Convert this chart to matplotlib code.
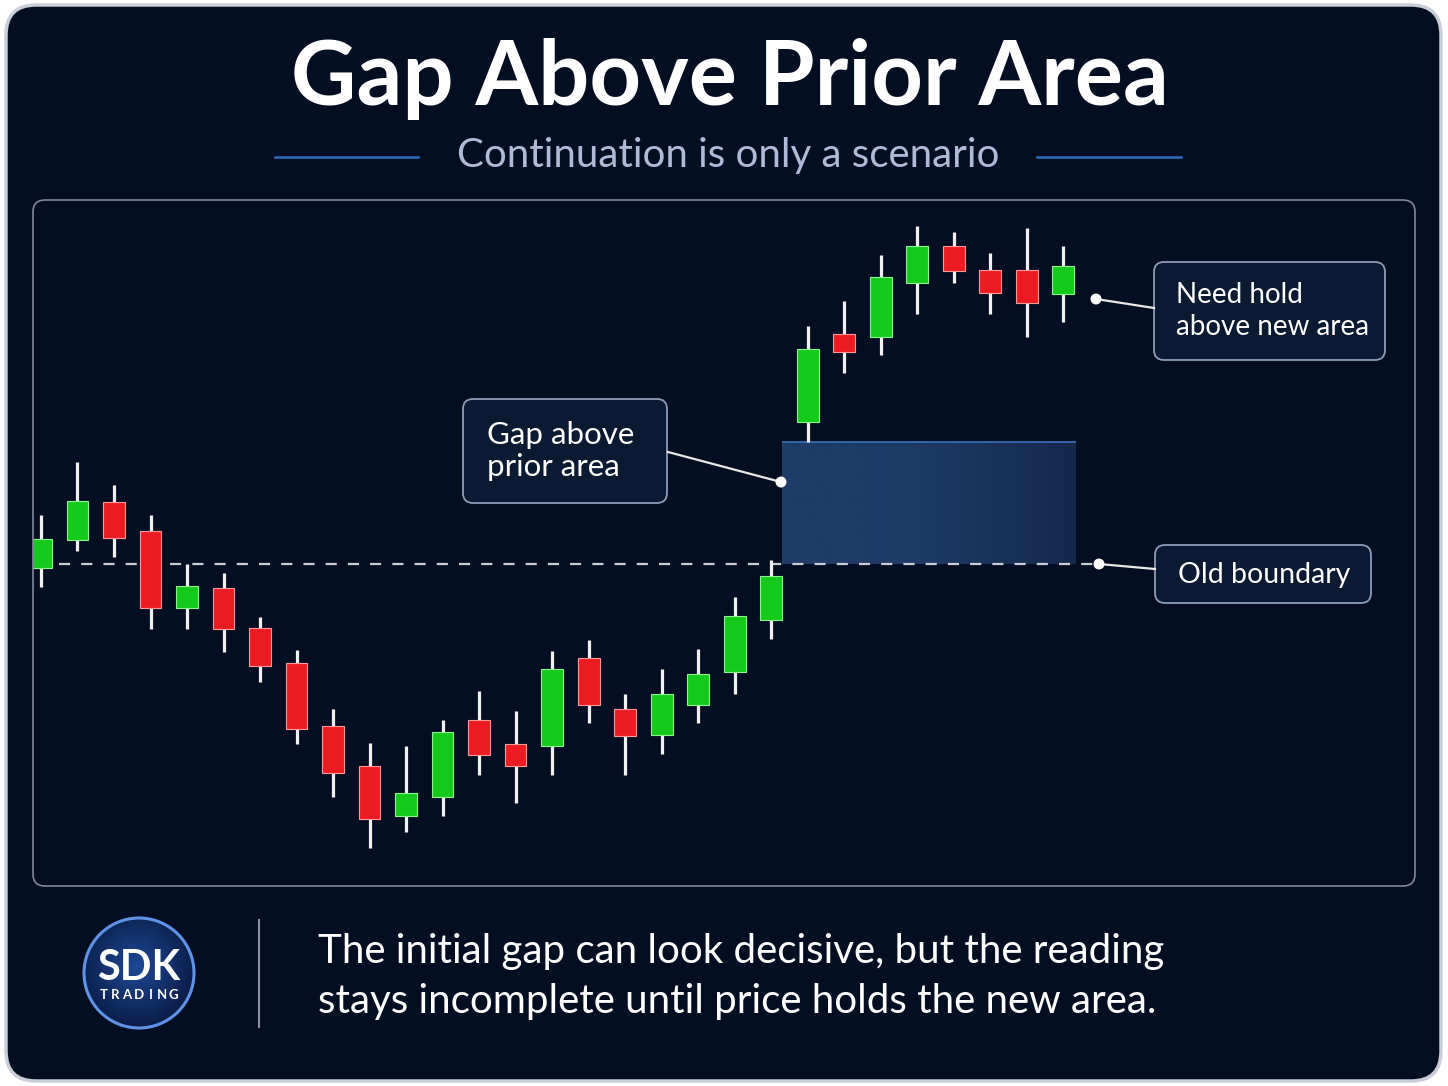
import numpy as np
import matplotlib
matplotlib.use("Agg")
import matplotlib.pyplot as plt
from matplotlib.patches import FancyBboxPatch, Circle
from matplotlib.lines import Line2D
from matplotlib.transforms import IdentityTransform

# ---------------- data ----------------
opens  = [33.2, 36.0, 39.8, 36.9, 29.2, 31.2, 27.2, 23.7, 17.4, 13.4, 8.4, 10.3, 18.0, 15.6, 15.4,
          24.2, 19.1, 16.5, 19.5, 22.8, 28.0, 47.8, 56.6, 56.3, 61.7, 65.4, 63.0, 63.0, 60.6]
highs  = [38.5, 43.8, 41.5, 38.5, 33.6, 32.7, 28.3, 25.0, 19.1, 15.7, 15.4, 18.0, 20.9, 18.9, 24.9,
          26.0, 20.6, 23.1, 25.1, 30.3, 34.0, 57.4, 59.9, 64.5, 67.4, 66.8, 64.7, 67.2, 65.4]
lows   = [31.3, 34.9, 34.3, 27.1, 27.1, 24.8, 21.8, 15.6, 10.3, 5.2, 6.8, 8.4, 12.5, 9.7, 12.5,
          17.7, 12.5, 14.6, 17.7, 20.6, 26.1, 45.8, 52.7, 54.5, 58.6, 61.7, 58.6, 56.3, 57.8]
closes = [36.1, 39.9, 36.2, 29.2, 31.4, 27.1, 23.4, 17.1, 12.7, 8.1, 10.7, 16.8, 14.5, 13.4, 23.1,
          19.5, 16.4, 20.6, 22.6, 28.4, 32.4, 55.1, 54.8, 62.3, 65.4, 62.9, 60.7, 59.7, 63.4]
old_boundary = 33.6
gap_top = 45.8

title = "Gap Above Prior Area"
subtitle = "Continuation is only a scenario"
label_gap = "Gap above\nprior area"
label_hold = "Need hold\nabove new area"
label_old = "Old boundary"
footer_lines = ["The initial gap can look decisive, but the reading",
                "stays incomplete until price holds the new area."]

# ---------------- style ----------------
W, H = 1448, 1086
BG = "#040e22"
GREEN = "#16c91d"
GREEN_EDGE = "#8af58c"
RED = "#ec1b21"
RED_EDGE = "#ff9a9a"
FONT = ["Lato", "DejaVu Sans"]
plt.rcParams["font.family"] = FONT

fig = plt.figure(figsize=(W / 100, H / 100), dpi=100, facecolor="white")
ID = IdentityTransform()


def rbox(x0, y0, x1, y1, r, **kw):
    p = FancyBboxPatch((x0, H - y1), x1 - x0, y1 - y0,
                       boxstyle=f"round,pad=0,rounding_size={r}", transform=ID, **kw)
    fig.add_artist(p)
    return p


def ftext(x, y, s, **kw):
    return fig.text(x / W, 1 - y / H, s, **kw)


def pline(x0, y0, x1, y1, **kw):
    fig.add_artist(Line2D([x0, x1], [H - y0, H - y1], transform=ID, **kw))


def dot(x, y):
    fig.add_artist(Circle((x, H - y), 5.5, transform=ID, fc="white", ec="none", zorder=6))


# outer frame
rbox(6, 5, 1441, 1081, 30, fc=BG, ec="#c9ced8", lw=2.5, zorder=-10)

# titles
ftext(730, 79, title, ha="center", va="center", color="white", fontsize=65, fontweight="bold")
ftext(728, 155, subtitle, ha="center", va="center", color="#aebbd8", fontsize=29)
pline(275, 157, 418, 157, color="#2f6cc0", lw=1.8)
pline(1037, 157, 1181, 157, color="#2f6cc0", lw=1.8)

# chart panel
rbox(33, 200, 1415, 886, 12, fill=False, ec="#7f8799", lw=1.2, zorder=1)
ax = fig.add_axes([33 / W, 1 - 886 / H, 1382 / W, 686 / H])
ax.set_facecolor("none")
ax.set_xlim(-0.219, 37.64)
ax.set_ylim(1.4, 70)
ax.axis("off")

# gap zone with soft horizontal gradient
gx0, gx1 = 20.3, 28.35
nx = 300
xx = np.linspace(0, 1, nx)
c_left = np.array([31, 60, 104]) / 255.0
c_right = np.array([20, 40, 75]) / 255.0
t = np.clip((xx - 0.3) / 0.7, 0, 1) ** 1.4
row = c_left[None, :] * (1 - t[:, None]) + c_right[None, :] * t[:, None]
img = np.repeat(row[None, :, :], 60, axis=0)
ax.imshow(img, extent=[gx0, gx1, old_boundary, gap_top], aspect="auto", zorder=1,
          interpolation="bilinear")
ax.hlines(gap_top, gx0, gx1, color="#3565a8", lw=1.4, zorder=1.5)

# old boundary
ax.plot([0.5, 28.99], [old_boundary, old_boundary], color="#c9cdd6", lw=1.6,
        linestyle=(0, (5, 5)), zorder=2)

# candles
x = np.arange(len(opens))
for i in x:
    o, h, l, c = opens[i], highs[i], lows[i], closes[i]
    up = c >= o
    ax.vlines(i, l, h, color="#f0f0f0", lw=2.3, zorder=3)
    ax.bar(i, abs(c - o), bottom=min(o, c), width=0.6,
           color=GREEN if up else RED, edgecolor=GREEN_EDGE if up else RED_EDGE,
           lw=0.8, zorder=4)

# annotations
BOX_FC = "#0a1a33"
BOX_EC = "#8d9bb6"
rbox(463, 399, 667, 503, 10, fc=BOX_FC, ec=BOX_EC, lw=1.3, zorder=5)
ftext(487, 451, label_gap, ha="left", va="center", color="white", fontsize=22.5,
      linespacing=1.2, zorder=6)
pline(668, 452, 781, 482, color="#e8e8e8", lw=1.6, zorder=5)
dot(781, 482)

rbox(1154, 262, 1385, 360, 10, fc=BOX_FC, ec=BOX_EC, lw=1.3, zorder=5)
ftext(1176, 311, label_hold, ha="left", va="center", color="white", fontsize=20,
      linespacing=1.25, zorder=6)
pline(1096, 299, 1154, 308, color="#e8e8e8", lw=1.6, zorder=5)
dot(1096, 299)

rbox(1155, 545, 1371, 603, 10, fc=BOX_FC, ec=BOX_EC, lw=1.3, zorder=5)
ftext(1178, 575, label_old, ha="left", va="center", color="white", fontsize=20.5, zorder=6)
pline(1099, 564, 1155, 569, color="#e8e8e8", lw=1.6, zorder=5)
dot(1099, 564)

# footer: logo
lax = fig.add_axes([83 / W, 1 - 1029 / H, 112 / W, 112 / H])
lax.axis("off")
lyy, lxx = np.mgrid[-1:1:200j, -1:1:200j]
r = np.sqrt((lxx + 0.05) ** 2 + (lyy + 0.1) ** 2)
c_in = np.array([30, 72, 150]) / 255.0
c_out = np.array([10, 28, 70]) / 255.0
tt = np.clip(r / 1.1, 0, 1)[..., None]
limg = c_in * (1 - tt) + c_out * tt
im = lax.imshow(limg, extent=[-1, 1, -1, 1], zorder=1)
clip = Circle((0, 0), 1.0, transform=lax.transData)
im.set_clip_path(clip)
lax.set_xlim(-1, 1)
lax.set_ylim(-1, 1)
fig.add_artist(Circle((139, H - 973), 55, transform=ID, fill=False, ec="#5e92e6", lw=2.2, zorder=3))
ftext(139, 968, "SDK", ha="center", va="center", color="white", fontsize=30, fontweight="bold", zorder=4)
for k, ch in enumerate("TRADING"):
    ftext(104 + k * 11.6, 995, ch, ha="center", va="center", color="white", fontsize=9.5,
          fontweight="bold", zorder=4)

pline(259, 920, 259, 1027, color="#8a93a5", lw=1.5)
ftext(318, 952, footer_lines[0], ha="left", va="center", color="white", fontsize=29)
ftext(318, 1001, footer_lines[1], ha="left", va="center", color="white", fontsize=29)

fig.savefig("out.png", dpi=100, facecolor="white")
